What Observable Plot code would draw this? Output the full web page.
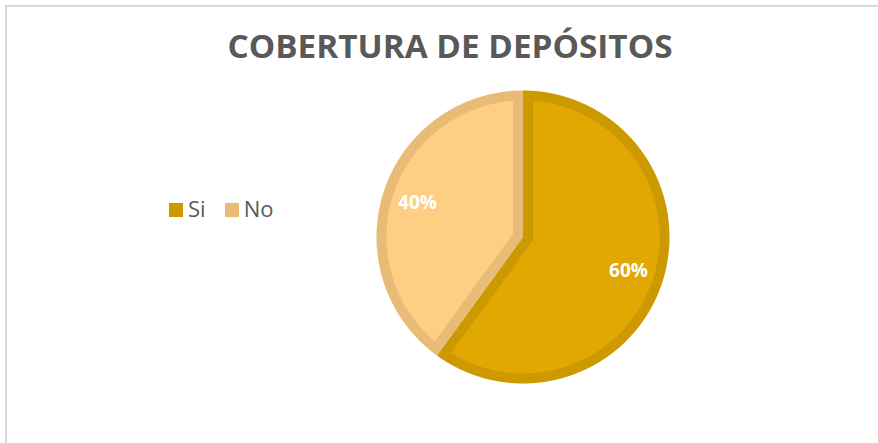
<!DOCTYPE html>
<html><head><meta charset="utf-8">
<script src="https://cdn.jsdelivr.net/npm/d3@7"></script>
<script src="https://cdn.jsdelivr.net/npm/@observablehq/plot@0.6"></script>
<style>
html,body{margin:0;padding:0;background:#fff;overflow:hidden;}
#chart{position:relative;width:878px;height:443px;overflow:hidden;font-family:"Open Sans",sans-serif;}
#frame{position:absolute;left:5px;top:5px;width:1000px;height:1000px;border:2px solid #D9D9D9;box-sizing:border-box;}
#plot{position:absolute;left:0;top:0;}
#title{position:absolute;left:450.4px;top:30px;font-weight:700;font-size:32.5px;line-height:32px;color:#595959;white-space:nowrap;transform-origin:center center;}
#legend{position:absolute;left:169px;top:197px;font-size:22px;line-height:22px;color:#595959;white-space:nowrap;}
.item{display:inline-block;margin-right:19px;}
.sw{display:inline-block;width:14px;height:14px;margin-right:5px;vertical-align:baseline;}
</style></head>
<body><div id="chart"><div id="frame"></div><div id="title"></div><div id="legend"></div></div>
<script>
const title = "COBERTURA DE DEPÓSITOS";
const categories = ["Si", "No"];
const values = [60, 40];
const fillColors = ["#E0A800", "#FFCE85"];
const borderColors = ["#CC9A00", "#E8BC76"];

const borderUnit = 10 / 146.5;
const total = d3.sum(values);
const outerRows = [], innerRows = [], labelRows = [];
let acc = 0;
categories.forEach((cat, i) => {
  const a0 = 2 * Math.PI * acc / total;
  acc += values[i];
  const a1 = 2 * Math.PI * acc / total;
  outerRows.push({cat, x: 0, y: 0});
  const n = Math.ceil((a1 - a0) / (Math.PI / 360));
  for (let k = 0; k <= n; k++) {
    const a = a0 + (a1 - a0) * k / n;
    outerRows.push({cat, x: Math.sin(a), y: Math.cos(a)});
  }
  const th = a1 - a0, m = (a0 + a1) / 2, ri = 1 - borderUnit;
  const d = borderUnit / Math.sin(th / 2);
  innerRows.push({cat, x: d * Math.sin(m), y: d * Math.cos(m)});
  const del = Math.asin(borderUnit / ri);
  const s = a0 + del, e = a1 - del;
  const n2 = Math.ceil((e - s) / (Math.PI / 360));
  for (let k = 0; k <= n2; k++) {
    const a = s + (e - s) * k / n2;
    innerRows.push({cat, x: ri * Math.sin(a), y: ri * Math.cos(a)});
  }
  const rl = 0.757;
  labelRows.push({cat, x: rl * Math.sin(m), y: rl * Math.cos(m), text: Math.round(values[i] / total * 100) + "%"});
});

const plot = Plot.plot({
  width: 878, height: 443,
  marginLeft: 376, marginRight: 209, marginTop: 90, marginBottom: 60,
  x: {domain: [-1, 1], axis: null},
  y: {domain: [-1, 1], axis: null},
  color: {domain: categories, range: borderColors},
  style: {background: "transparent", overflow: "visible"},
  marks: [
    Plot.line(outerRows, {x: "x", y: "y", z: "cat", fill: "cat", stroke: "none"}),
    ...categories.map((c, i) => Plot.line(innerRows.filter(r => r.cat === c), {x: "x", y: "y", fill: fillColors[i], stroke: "none"})),
    Plot.text(labelRows, {x: "x", y: "y", text: "text", fill: "white", fontSize: 19, fontWeight: "bold", fontFamily: "Open Sans"})
  ]
});
plot.id = "plot";
document.getElementById("chart").appendChild(plot);

const t = document.getElementById("title");
t.textContent = title;
const w = t.getBoundingClientRect().width;
t.style.transform = `translateX(-50%) scaleX(${445 / w})`;

const lg = document.getElementById("legend");
categories.forEach((c, i) => {
  const it = document.createElement("span");
  it.className = "item";
  const sw = document.createElement("span");
  sw.className = "sw";
  sw.style.background = borderColors[i];
  it.appendChild(sw);
  it.appendChild(document.createTextNode(c));
  lg.appendChild(it);
});
</script>
</body></html>
